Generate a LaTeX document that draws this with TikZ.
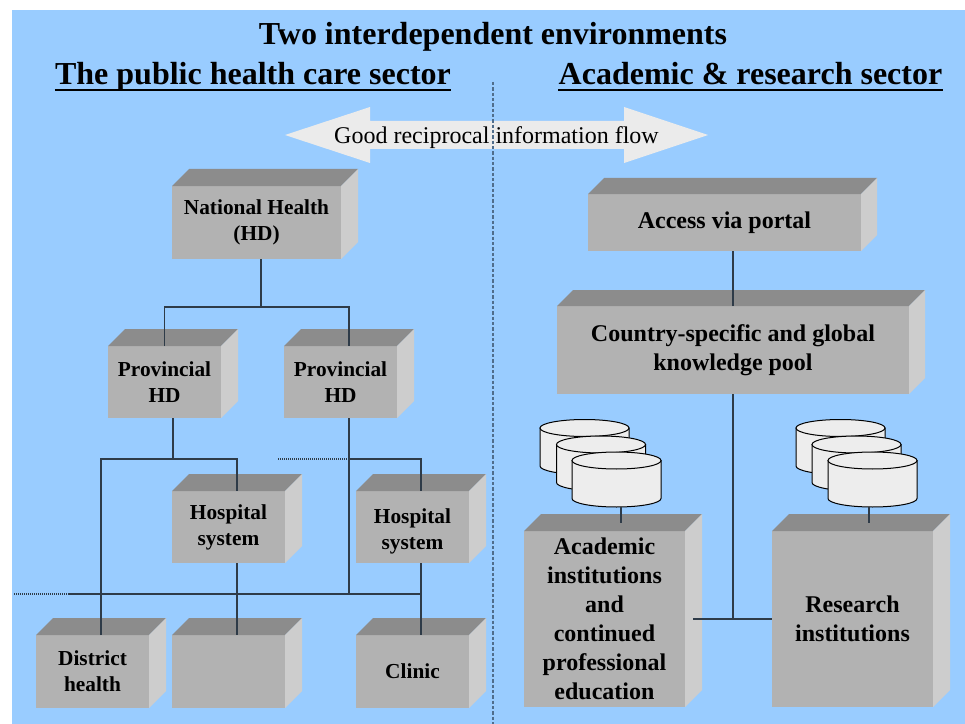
\documentclass[tikz,border=0pt]{standalone}
\usepackage{fontspec}
\setmainfont{Liberation Serif}
\usetikzlibrary{calc}
\definecolor{bgblue}{HTML}{99CCFF}
\definecolor{frontgray}{HTML}{B2B2B2}
\definecolor{topgray}{HTML}{8C8C8C}
\definecolor{sidegray}{HTML}{CDCDCD}
\definecolor{cylfill}{HTML}{EDEDED}
\definecolor{arrowfill}{HTML}{EBEBEB}
\definecolor{divcol}{HTML}{4F6D8C}
\definecolor{linecol}{HTML}{2E3B48}
\newcommand\cubefaces[3]{%
  \fill[topgray] (#1.north west) -- ++(#2,-#3) -- ([shift={(#2,-#3)}]#1.north east) -- (#1.north east) -- cycle;
  \fill[sidegray] (#1.north east) -- ++(#2,-#3) -- ([shift={(#2,-#3)}]#1.south east) -- (#1.south east) -- cycle;}
\newcommand\dbcyl[2]{%
  \filldraw[cyl] (#1-44.5,#2) -- (#1-44.5,#2+38) arc[start angle=180,end angle=360,x radius=33.375pt,y radius=6.375pt] -- (#1+44.5,#2) -- cycle;
  \filldraw[cyl] (#1,#2) ellipse[x radius=33.375pt,y radius=6.375pt];}
\begin{document}
\begin{tikzpicture}[x=0.75pt,y=-0.75pt,
  front/.style={fill=frontgray, inner sep=0pt, outer sep=0pt, align=center, font=\bfseries\fontsize{16}{19.5}\selectfont},
  bigfront/.style={front, font=\bfseries\fontsize{18}{21.75}\selectfont},
  conn/.style={draw=linecol, line width=0.9pt},
  dotconn/.style={draw=linecol, line width=0.9pt, dash pattern=on 0.75pt off 0.75pt},
  cyl/.style={fill=cylfill, draw=black, line width=0.75pt},
  heading/.style={inner sep=0pt, anchor=base, font=\bfseries\fontsize{24}{28}\selectfont}]
\useasboundingbox (0,0) rectangle (965,724);
\fill[bgblue] (12,10) rectangle (965,724);

% headings
\node[heading] (title) at (493,45) {Two interdependent environments};
\node[heading] (sub1) at (253,85) {The public health care sector};
\node[heading] (sub2) at (750.5,85) {Academic \& research sector};
\draw[line width=1.5pt] ([yshift=-4pt]sub1.base west) -- ([yshift=-4pt]sub1.base east);
\draw[line width=1.5pt] ([yshift=-4pt]sub2.base west) -- ([yshift=-4pt]sub2.base east);

% double arrow
\fill[arrowfill] (285,135) -- (370,107) -- (370,121) -- (624,121) -- (624,107) -- (708,135)
  -- (624,163) -- (624,149) -- (370,149) -- (370,163) -- cycle;
\node[inner sep=0pt, anchor=base, font=\fontsize{18}{20}\selectfont] (flow) at (496.5,143) {Good reciprocal information flow};

% divider
\draw[divcol, line width=1pt, dash pattern=on 2.5pt off 1.5pt] (493,82) -- (493,724);

% left boxes
\node[front, minimum width=126.75pt, minimum height=54.75pt] (nat) at (256.5,222.5) {National Health\\(HD)};
\node[front, minimum width=84.75pt, minimum height=54pt] (prov1) at (164.5,382) {Provincial\\HD};
\node[front, minimum width=84.75pt, minimum height=54pt] (prov2) at (340.5,382) {Provincial\\HD};
\node[front, minimum width=84.75pt, minimum height=54pt] (hosp1) at (228.5,527) {Hospital\\system};
\node[front, minimum width=84.75pt, minimum height=54pt] (hosp2) at (412.5,527) {\rule{0pt}{17pt}Hospital\\system};
\node[front, minimum width=84.75pt, minimum height=54.75pt] (dist) at (92.5,671.5) {District\\health};
\node[front, minimum width=84.75pt, minimum height=54.75pt] (blank) at (228.5,671.5) {};
\node[front, minimum width=84.75pt, minimum height=54.75pt] (clinic) at (412.5,671.5) {Clinic};
\foreach \b in {nat,prov1,prov2,hosp1,hosp2,dist,blank,clinic} {\cubefaces{\b}{17}{17}}

% right boxes
\node[bigfront, minimum width=204.75pt, minimum height=42.75pt] (portal) at (724.5,222.5) {Access via portal};
\node[bigfront, minimum width=264pt, minimum height=66pt] (pool) at (733,350) {Country-specific and global\\knowledge pool};
\node[bigfront, minimum width=120.75pt, minimum height=132pt] (acad) at (604.5,619) {Academic\\institutions\\and\\continued\\professional\\education};
\node[bigfront, minimum width=120.75pt, minimum height=132pt] (res) at (852.5,619) {Research\\institutions};
\cubefaces{portal}{16}{16}
\cubefaces{pool}{16}{16}
\cubefaces{acad}{17}{17}
\cubefaces{res}{17}{17}

% databases
\dbcyl{584.5}{428}
\dbcyl{601}{444.5}
\dbcyl{616.5}{460.5}
\dbcyl{840.5}{428}
\dbcyl{856.5}{444.5}
\dbcyl{872.5}{460.5}
\coordinate (acyl) at (621,507);
\coordinate (rcyl) at (869,507);

% left connectors
\coordinate (j1) at (261,307);
\draw[conn] (j1 |- nat.south) -- (j1);
\draw[conn] (prov1.north) |- (j1) -| ($(prov2.north west)+(65,0)$);
\coordinate (j2) at (173,459);
\draw[conn] ($(prov1.south west)+(65,0)$) -- (j2);
\draw[conn] ($(dist.north west)+(65,0)$) |- (j2) -| ($(hosp1.north west)+(65,0)$);
\coordinate (j3) at (349,459);
\coordinate (j4) at (349,594);
\coordinate (d1) at (278,459);
\coordinate (d2) at (14,594);
\coordinate (d3) at (68,594);
\coordinate (h2b) at ($(hosp2.south west)+(65,0)$);
\draw[dotconn] (d1) -- (j3);
\draw[conn] ($(prov2.south west)+(65,0)$) -- (j4);
\draw[conn] (j3) -| ($(hosp2.north west)+(65,0)$);
\draw[dotconn] (d2) -- (d3);
\draw[conn] (d3) -- (j4) -- (h2b |- j4);
\draw[conn] ($(hosp1.south west)+(65,0)$) -- ($(blank.north west)+(65,0)$);
\draw[conn] (h2b) -- ($(clinic.north west)+(65,0)$);

% right connectors
\draw[conn] (pool.north) -- (pool.north |- portal.south);
\draw[conn] (pool.south) -- (pool.south |- res.west);
\draw[conn] ($(acad.east)+(8,0)$) -- (res.west);
\draw[conn] (acyl) -- ($(acad.north west)+(97,-8)$);
\draw[conn] (rcyl) -- ($(res.north west)+(97,-8)$);
\end{tikzpicture}
\end{document}
